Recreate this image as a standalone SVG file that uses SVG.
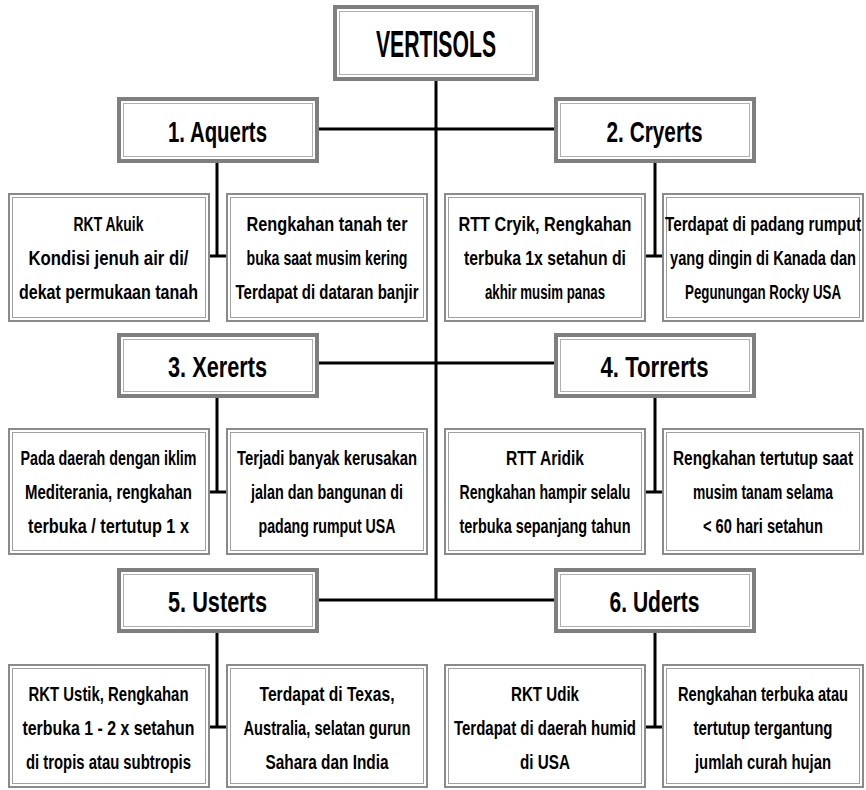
<svg xmlns="http://www.w3.org/2000/svg" width="866" height="790" viewBox="0 0 866 790">
<style>
text{font-family:"Liberation Sans","DejaVu Sans",Arial,sans-serif;font-weight:bold;fill:#000;text-anchor:middle}
.d{font-size:21px}
.t{font-size:30px}
.r{font-size:36px}
.o{fill:#fff;stroke:#8a8a8a;stroke-width:2}
.i{fill:none;stroke:#a0a0a0;stroke-width:1}
.to{fill:#fff;stroke:#7f7f7f;stroke-width:4}
.ti{fill:none;stroke:#b0b0b0;stroke-width:1}
.c{stroke:#000;stroke-width:3;fill:none}
</style>
<rect width="866" height="790" fill="#fff"/>
<g id="connectors">
<path class="c" d="M436 80V600"/>
<path class="c" d="M318 129H554M318 363H554M318 600H554"/>
<path class="c" d="M217 162V256M209 256H227"/>
<path class="c" d="M655 162V256M646 256H662"/>
<path class="c" d="M217 397V492M209 492H227"/>
<path class="c" d="M655 397V492M646 492H662"/>
<path class="c" d="M217 632V727M209 727H227"/>
<path class="c" d="M655 632V727M646 727H662"/>
</g>
<g id="vertisols">
<rect class="to" x="335" y="7" width="202" height="72"/><rect class="ti" x="339.5" y="11.5" width="193" height="63"/>
<text class="r" x="436" y="57" textLength="120" lengthAdjust="spacingAndGlyphs">VERTISOLS</text>
</g>
<g id="aquerts">
<rect class="to" x="119" y="99" width="198" height="62"/><rect class="ti" x="123.5" y="103.5" width="189" height="53"/>
<text class="t" x="217.5" y="142" textLength="99" lengthAdjust="spacingAndGlyphs">1. Aquerts</text>
</g>
<g id="cryerts">
<rect class="to" x="556" y="99" width="198" height="62"/><rect class="ti" x="560.5" y="103.5" width="189" height="53"/>
<text class="t" x="654.5" y="142" textLength="96" lengthAdjust="spacingAndGlyphs">2. Cryerts</text>
</g>
<g id="xererts">
<rect class="to" x="119" y="335" width="198" height="61"/><rect class="ti" x="123.5" y="339.5" width="189" height="52"/>
<text class="t" x="217.5" y="377" textLength="99" lengthAdjust="spacingAndGlyphs">3. Xererts</text>
</g>
<g id="torrerts">
<rect class="to" x="556" y="335" width="198" height="61"/><rect class="ti" x="560.5" y="339.5" width="189" height="52"/>
<text class="t" x="654.5" y="377" textLength="108" lengthAdjust="spacingAndGlyphs">4. Torrerts</text>
</g>
<g id="usterts">
<rect class="to" x="119" y="570" width="198" height="61"/><rect class="ti" x="123.5" y="574.5" width="189" height="52"/>
<text class="t" x="217.5" y="612" textLength="99" lengthAdjust="spacingAndGlyphs">5. Usterts</text>
</g>
<g id="uderts">
<rect class="to" x="556" y="570" width="198" height="61"/><rect class="ti" x="560.5" y="574.5" width="189" height="52"/>
<text class="t" x="654.5" y="612" textLength="90" lengthAdjust="spacingAndGlyphs">6. Uderts</text>
</g>
<g id="aquerts-1">
<rect class="o" x="9" y="194" width="200" height="127"/><rect class="i" x="12.5" y="197.5" width="193" height="120"/>
<text class="d" x="108.5" y="231" textLength="70" lengthAdjust="spacingAndGlyphs">RKT Akuik</text>
<text class="d" x="108.5" y="265" textLength="160" lengthAdjust="spacingAndGlyphs">Kondisi jenuh air di/</text>
<text class="d" x="108.5" y="299" textLength="179" lengthAdjust="spacingAndGlyphs">dekat permukaan tanah</text>
</g>
<g id="aquerts-2">
<rect class="o" x="227" y="194" width="200" height="127"/><rect class="i" x="230.5" y="197.5" width="193" height="120"/>
<text class="d" x="327" y="231" textLength="161" lengthAdjust="spacingAndGlyphs">Rengkahan tanah ter</text>
<text class="d" x="327" y="265" textLength="161" lengthAdjust="spacingAndGlyphs">buka saat musim kering</text>
<text class="d" x="327" y="299" textLength="183" lengthAdjust="spacingAndGlyphs">Terdapat di dataran banjir</text>
</g>
<g id="cryerts-1">
<rect class="o" x="445" y="194" width="200" height="127"/><rect class="i" x="448.5" y="197.5" width="193" height="120"/>
<text class="d" x="545" y="231" textLength="173" lengthAdjust="spacingAndGlyphs">RTT Cryik, Rengkahan</text>
<text class="d" x="545" y="265" textLength="162" lengthAdjust="spacingAndGlyphs">terbuka 1x setahun di</text>
<text class="d" x="545" y="299" textLength="120" lengthAdjust="spacingAndGlyphs">akhir musim panas</text>
</g>
<g id="cryerts-2">
<rect class="o" x="663" y="194" width="200" height="127"/><rect class="i" x="666.5" y="197.5" width="193" height="120"/>
<text class="d" x="763" y="231" textLength="196" lengthAdjust="spacingAndGlyphs">Terdapat di padang rumput</text>
<text class="d" x="763" y="265" textLength="186" lengthAdjust="spacingAndGlyphs">yang dingin di Kanada dan</text>
<text class="d" x="763" y="299" textLength="156" lengthAdjust="spacingAndGlyphs">Pegunungan Rocky USA</text>
</g>
<g id="xererts-1">
<rect class="o" x="9" y="429" width="200" height="125"/><rect class="i" x="12.5" y="432.5" width="193" height="118"/>
<text class="d" x="108.5" y="465" textLength="176" lengthAdjust="spacingAndGlyphs">Pada daerah dengan iklim</text>
<text class="d" x="108.5" y="499" textLength="167" lengthAdjust="spacingAndGlyphs">Mediterania, rengkahan</text>
<text class="d" x="108.5" y="533" textLength="161" lengthAdjust="spacingAndGlyphs">terbuka / tertutup 1 x</text>
</g>
<g id="xererts-2">
<rect class="o" x="227" y="429" width="200" height="125"/><rect class="i" x="230.5" y="432.5" width="193" height="118"/>
<text class="d" x="327" y="465" textLength="180" lengthAdjust="spacingAndGlyphs">Terjadi banyak kerusakan</text>
<text class="d" x="327" y="499" textLength="152" lengthAdjust="spacingAndGlyphs">jalan dan bangunan di</text>
<text class="d" x="327" y="533" textLength="137" lengthAdjust="spacingAndGlyphs">padang rumput USA</text>
</g>
<g id="torrerts-1">
<rect class="o" x="445" y="429" width="200" height="125"/><rect class="i" x="448.5" y="432.5" width="193" height="118"/>
<text class="d" x="545" y="465" textLength="78" lengthAdjust="spacingAndGlyphs">RTT Aridik</text>
<text class="d" x="545" y="499" textLength="171" lengthAdjust="spacingAndGlyphs">Rengkahan hampir selalu</text>
<text class="d" x="545" y="533" textLength="171" lengthAdjust="spacingAndGlyphs">terbuka sepanjang tahun</text>
</g>
<g id="torrerts-2">
<rect class="o" x="663" y="429" width="200" height="125"/><rect class="i" x="666.5" y="432.5" width="193" height="118"/>
<text class="d" x="763" y="465" textLength="180" lengthAdjust="spacingAndGlyphs">Rengkahan tertutup saat</text>
<text class="d" x="763" y="499" textLength="140" lengthAdjust="spacingAndGlyphs">musim tanam selama</text>
<text class="d" x="763" y="533" textLength="120" lengthAdjust="spacingAndGlyphs">&lt; 60 hari setahun</text>
</g>
<g id="usterts-1">
<rect class="o" x="9" y="665" width="200" height="122"/><rect class="i" x="12.5" y="668.5" width="193" height="115"/>
<text class="d" x="108.5" y="701" textLength="160" lengthAdjust="spacingAndGlyphs">RKT Ustik, Rengkahan</text>
<text class="d" x="108.5" y="735" textLength="172" lengthAdjust="spacingAndGlyphs">terbuka 1 - 2 x setahun</text>
<text class="d" x="108.5" y="769" textLength="165" lengthAdjust="spacingAndGlyphs">di tropis atau subtropis</text>
</g>
<g id="usterts-2">
<rect class="o" x="227" y="665" width="200" height="122"/><rect class="i" x="230.5" y="668.5" width="193" height="115"/>
<text class="d" x="327" y="701" textLength="135" lengthAdjust="spacingAndGlyphs">Terdapat di Texas,</text>
<text class="d" x="327" y="735" textLength="167" lengthAdjust="spacingAndGlyphs">Australia, selatan gurun</text>
<text class="d" x="327" y="769" textLength="123" lengthAdjust="spacingAndGlyphs">Sahara dan India</text>
</g>
<g id="uderts-1">
<rect class="o" x="445" y="665" width="200" height="122"/><rect class="i" x="448.5" y="668.5" width="193" height="115"/>
<text class="d" x="545" y="701" textLength="68" lengthAdjust="spacingAndGlyphs">RKT Udik</text>
<text class="d" x="545" y="735" textLength="182" lengthAdjust="spacingAndGlyphs">Terdapat di daerah humid</text>
<text class="d" x="545" y="769" textLength="50" lengthAdjust="spacingAndGlyphs">di USA</text>
</g>
<g id="uderts-2">
<rect class="o" x="663" y="665" width="200" height="122"/><rect class="i" x="666.5" y="668.5" width="193" height="115"/>
<text class="d" x="763" y="701" textLength="170" lengthAdjust="spacingAndGlyphs">Rengkahan terbuka atau</text>
<text class="d" x="763" y="735" textLength="139" lengthAdjust="spacingAndGlyphs">tertutup tergantung</text>
<text class="d" x="763" y="769" textLength="136" lengthAdjust="spacingAndGlyphs">jumlah curah hujan</text>
</g>
</svg>
